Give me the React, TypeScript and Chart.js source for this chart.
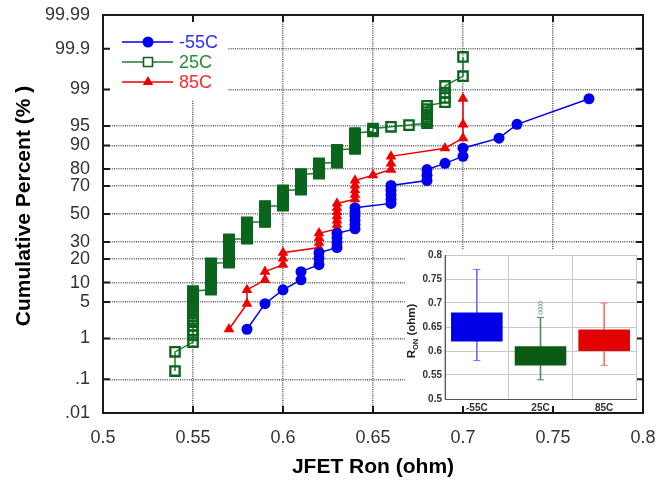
import React, { useEffect, useRef } from 'react';
import { Chart, registerables, LinearScale } from 'chart.js';

Chart.register(...registerables);

// ---------------- data ----------------
const seriesNames = ['-55C', '25C', '85C'];

// measured Ron values (ohm) and how many parts share each value
const neg55Ron = [0.58, 0.59, 0.60, 0.61, 0.62, 0.63, 0.64, 0.66, 0.68, 0.69, 0.70, 0.72, 0.73, 0.77];
const neg55Count = [1, 1, 1, 2, 3, 4, 6, 5, 3, 1, 2, 1, 1, 1];

const p25Ron = [0.54, 0.55, 0.56, 0.57, 0.58, 0.59, 0.60, 0.61, 0.62, 0.63, 0.64, 0.65, 0.66, 0.67, 0.68, 0.69, 0.70];
const p25Count = [2, 21, 31, 42, 36, 36, 34, 30, 17, 17, 15, 3, 1, 1, 8, 4, 2];

const p85Ron = [0.57, 0.58, 0.59, 0.60, 0.62, 0.63, 0.64, 0.65, 0.66, 0.69, 0.70];
const p85Count = [1, 2, 2, 3, 4, 7, 5, 1, 3, 1, 3];

const yTickValues = [0.01, 0.1, 1, 5, 10, 20, 30, 50, 70, 80, 90, 95, 99, 99.9, 99.99];
const yTickLabels = ['.01', '.1', '1', '5', '10', '20', '30', '50', '70', '80', '90', '95', '99', '99.9', '99.99'];

// inset box plot
const boxCategories = ['-55C', '25C', '85C'];
const boxQ1 = [0.62, 0.57, 0.60];
const boxQ3 = [0.68, 0.61, 0.645];
const whiskerLow = [0.58, 0.54, 0.57];
const whiskerHigh = [0.77, 0.67, 0.70];
const outliers25C = [0.68, 0.687, 0.693, 0.70];

// ---------------- styles ----------------
const FONT = 'Arial, "Liberation Sans", Helvetica, sans-serif';
const BLUE = '#0000ee';
const GREEN_MARK = '#0b651c';
const GREEN_LINE = '#1f7d30';
const RED = '#ee0000';
const boxColors = ['#0000e6', '#0a5a14', '#e30000'];
const whiskerColors = ['#7070ff', '#4f8f5f', '#ff7070'];

// ---------------- probit helpers ----------------
function normInv(p: number): number {
  const a = [-3.969683028665376e+01, 2.209460984245205e+02, -2.759285104469687e+02, 1.383577518672690e+02, -3.066479806614716e+01, 2.506628277459239e+00];
  const b = [-5.447609879822406e+01, 1.615858368580409e+02, -1.556989798598866e+02, 6.680131188771972e+01, -1.328068155288572e+01];
  const c = [-7.784894002430293e-03, -3.223964580411365e-01, -2.400758277161838e+00, -2.549732539343734e+00, 4.374664141464968e+00, 2.938163982698783e+00];
  const d = [7.784695709041462e-03, 3.224671290700398e-01, 2.445134137142996e+00, 3.754408661907416e+00];
  const pl = 0.02425;
  if (p < pl) {
    const q = Math.sqrt(-2 * Math.log(p));
    return (((((c[0] * q + c[1]) * q + c[2]) * q + c[3]) * q + c[4]) * q + c[5]) / ((((d[0] * q + d[1]) * q + d[2]) * q + d[3]) * q + 1);
  }
  if (p <= 1 - pl) {
    const q = p - 0.5, r = q * q;
    return (((((a[0] * r + a[1]) * r + a[2]) * r + a[3]) * r + a[4]) * r + a[5]) * q / (((((b[0] * r + b[1]) * r + b[2]) * r + b[3]) * r + b[4]) * r + 1);
  }
  const q = Math.sqrt(-2 * Math.log(1 - p));
  return -(((((c[0] * q + c[1]) * q + c[2]) * q + c[3]) * q + c[4]) * q + c[5]) / ((((d[0] * q + d[1]) * q + d[2]) * q + d[3]) * q + 1);
}

function probFromZ(z: number): number {
  let lo = 1e-9, hi = 1 - 1e-9;
  for (let i = 0; i < 60; i++) {
    const mid = (lo + hi) / 2;
    if (normInv(mid) < z) lo = mid; else hi = mid;
  }
  return (lo + hi) / 2;
}

class ProbitScale extends (LinearScale as any) {
  static id = 'probit';
  determineDataLimits() {
    this.min = this.options.min;
    this.max = this.options.max;
  }
  buildTicks() {
    return yTickValues.map((v) => ({ value: v }));
  }
  configure() {
    super.configure();
    this._zLo = normInv(this.min / 100);
    this._zHi = normInv(this.max / 100);
  }
  getPixelForValue(value: number) {
    const z = normInv(value / 100);
    return this.getPixelForDecimal((z - this._zLo) / (this._zHi - this._zLo));
  }
  getValueForPixel(pixel: number) {
    const dec = this.getDecimalForPixel(pixel);
    return probFromZ(this._zLo + dec * (this._zHi - this._zLo)) * 100;
  }
}
Chart.register(ProbitScale as any);

// cumulative plotting positions (i - 0.5) / N of the measured sample
function probabilityPoints(values: number[], counts: number[]) {
  const n = counts.reduce((s, c) => s + c, 0);
  const pts: { x: number; y: number }[] = [];
  let rank = 0;
  values.forEach((v, k) => {
    for (let j = 0; j < counts[k]; j++) {
      rank += 1;
      pts.push({ x: v, y: ((rank - 0.5) / n) * 100 });
    }
  });
  return pts;
}

const fmt = (v: number) => String(Number(Number(v).toFixed(2)));

function drawMarker(ctx: CanvasRenderingContext2D, kind: string, x: number, y: number, color: string) {
  ctx.save();
  ctx.strokeStyle = color;
  ctx.fillStyle = color;
  ctx.beginPath();
  if (kind === 'circle') {
    ctx.arc(x, y, 5.5, 0, Math.PI * 2);
    ctx.fill();
  } else if (kind === 'rect') {
    ctx.lineWidth = 1.6;
    ctx.fillStyle = '#fff';
    ctx.rect(x - 4.5, y - 4.5, 9, 9);
    ctx.fill();
    ctx.stroke();
  } else {
    const r = 6;
    ctx.moveTo(x, y - r);
    ctx.lineTo(x + r * 0.866, y + r * 0.5);
    ctx.lineTo(x - r * 0.866, y + r * 0.5);
    ctx.closePath();
    ctx.fill();
  }
  ctx.restore();
}

const legendItems = [
  { name: seriesNames[0], line: BLUE, marker: 'circle', markColor: BLUE, text: '#2f2fff' },
  { name: seriesNames[1], line: GREEN_LINE, marker: 'rect', markColor: GREEN_MARK, text: '#2b8a3b' },
  { name: seriesNames[2], line: RED, marker: 'triangle', markColor: RED, text: '#ff2a2a' },
];

const mainDecor = {
  id: 'mainDecor',
  beforeDatasetsDraw(chart: any) {
    const { ctx, chartArea: a } = chart;
    ctx.save();
    ctx.fillStyle = '#ffffff';
    // legend background
    ctx.fillRect(a.left, a.top, 125, 85);
    // inset background
    ctx.fillRect(405, 250, a.right - 405, a.bottom - 250);
    ctx.restore();
  },
  afterDraw(chart: any) {
    const { ctx, chartArea: a, scales } = chart;
    // y axis title
    ctx.save();
    ctx.translate(24, 206);
    ctx.rotate(-Math.PI / 2);
    ctx.fillStyle = '#000';
    ctx.font = `bold 21px ${FONT}`;
    ctx.textAlign = 'center';
    ctx.textBaseline = 'middle';
    ctx.fillText('Cumulative Percent (% )', 0, 0);
    ctx.restore();
    // legend
    legendItems.forEach((it, i) => {
      const y = a.top + 27 + i * 20;
      ctx.save();
      ctx.strokeStyle = it.line;
      ctx.lineWidth = 1.5;
      ctx.beginPath();
      ctx.moveTo(a.left + 19, y);
      ctx.lineTo(a.left + 70, y);
      ctx.stroke();
      ctx.restore();
      drawMarker(ctx, it.marker, a.left + 45, y, it.markColor);
      ctx.save();
      ctx.fillStyle = it.text;
      ctx.font = `18px ${FONT}`;
      ctx.textBaseline = 'middle';
      ctx.textAlign = 'left';
      ctx.fillText(it.name, a.left + 76, y + 1);
      ctx.restore();
    });
    // frame
    ctx.save();
    ctx.strokeStyle = '#1a1a1a';
    ctx.lineWidth = 2;
    ctx.strokeRect(a.left, a.top, a.right - a.left, a.bottom - a.top);
    const tl = 7;
    ctx.beginPath();
    scales.x.ticks.forEach((t: any, i: number) => {
      if (i === 0 || i === scales.x.ticks.length - 1) return;
      const px = scales.x.getPixelForValue(t.value);
      ctx.moveTo(px, a.top);
      ctx.lineTo(px, a.top + tl);
      ctx.moveTo(px, a.bottom);
      ctx.lineTo(px, a.bottom - tl);
    });
    scales.y.ticks.forEach((t: any, i: number) => {
      if (i === 0 || i === scales.y.ticks.length - 1) return;
      const py = scales.y.getPixelForValue(t.value);
      ctx.moveTo(a.left, py);
      ctx.lineTo(a.left + tl, py);
      ctx.moveTo(a.right, py);
      ctx.lineTo(a.right - tl, py);
    });
    ctx.stroke();
    ctx.restore();
  },
};

const insetTitle = {
  id: 'insetTitle',
  afterDraw(chart: any) {
    const { ctx, chartArea: a } = chart;
    ctx.save();
    ctx.translate(7, (a.top + a.bottom) / 2 + 4);
    ctx.rotate(-Math.PI / 2);
    ctx.fillStyle = '#222';
    ctx.textBaseline = 'middle';
    ctx.textAlign = 'left';
    const f1 = `bold 11.5px ${FONT}`;
    const f2 = `bold 7.5px ${FONT}`;
    ctx.font = f1;
    const w1 = ctx.measureText('R').width;
    const w3 = ctx.measureText(' (ohm)').width;
    ctx.font = f2;
    const w2 = ctx.measureText('ON').width;
    let x = -(w1 + w2 + w3) / 2;
    ctx.font = f1;
    ctx.fillText('R', x, 0);
    x += w1;
    ctx.font = f2;
    ctx.fillText('ON', x, 3.5);
    x += w2;
    ctx.font = f1;
    ctx.fillText(' (ohm)', x, 0);
    ctx.restore();
  },
};

const noPadX = (h: number) => (s: any) => {
  s.height = h;
  s.paddingLeft = 0;
  s.paddingRight = 0;
};
const noPadY = (w: number) => (s: any) => {
  s.width = w;
  s.paddingTop = 0;
  s.paddingBottom = 0;
};

export default function App() {
  const mainRef = useRef<HTMLCanvasElement>(null);
  const insetRef = useRef<HTMLCanvasElement>(null);

  useEffect(() => {
    const main = new Chart(mainRef.current as HTMLCanvasElement, {
      type: 'scatter',
      data: {
        datasets: [
          {
            label: seriesNames[0],
            data: probabilityPoints(neg55Ron, neg55Count),
            showLine: true,
            borderColor: BLUE,
            borderWidth: 1.5,
            pointStyle: 'circle',
            pointRadius: 5.5,
            pointBackgroundColor: BLUE,
            pointBorderColor: BLUE,
            pointBorderWidth: 0,
          },
          {
            label: seriesNames[1],
            data: probabilityPoints(p25Ron, p25Count),
            showLine: true,
            borderColor: GREEN_LINE,
            borderWidth: 1.5,
            pointStyle: 'rect',
            pointRadius: 6.6,
            pointBackgroundColor: 'rgba(0,0,0,0)',
            pointBorderColor: GREEN_MARK,
            pointBorderWidth: 2.3,
          },
          {
            label: seriesNames[2],
            data: probabilityPoints(p85Ron, p85Count),
            showLine: true,
            borderColor: RED,
            borderWidth: 1.5,
            pointStyle: 'triangle',
            pointRadius: 6.2,
            pointBackgroundColor: RED,
            pointBorderColor: RED,
            pointBorderWidth: 0,
          },
        ],
      },
      options: {
        responsive: false,
        animation: false,
        devicePixelRatio: 1,
        layout: { padding: { top: 15, right: 14, left: 0, bottom: 0 } },
        plugins: { legend: { display: false }, tooltip: { enabled: false } },
        scales: {
          x: {
            type: 'linear',
            min: 0.5,
            max: 0.8,
            afterFit: noPadX(73),
            ticks: {
              stepSize: 0.05,
              padding: 14,
              autoSkip: false,
              maxRotation: 0,
              color: '#333',
              font: { family: FONT, size: 18 },
              callback: (v: any) => fmt(v),
            },
            grid: { color: '#5a5a5a', lineWidth: 1.5, drawTicks: false },
            border: { display: false, dash: [1, 1.2] },
            title: {
              display: true,
              text: 'JFET Ron (ohm)',
              color: '#000',
              font: { family: FONT, size: 21, weight: 'bold' },
              padding: { top: 0, bottom: 6 },
            },
          },
          y: {
            type: 'probit' as any,
            min: 0.01,
            max: 99.99,
            afterFit: noPadY(103),
            ticks: {
              padding: 13,
              autoSkip: false,
              color: '#333',
              font: { family: FONT, size: 18 },
              callback: (v: any) => {
                const i = yTickValues.indexOf(v);
                return i >= 0 ? yTickLabels[i] : '';
              },
            },
            grid: { color: '#5a5a5a', lineWidth: 1.5, drawTicks: false },
            border: { display: false, dash: [1, 1.2] },
            title: { display: false },
          },
        },
      } as any,
      plugins: [mainDecor],
    });

    const inset = new Chart(insetRef.current as HTMLCanvasElement, {
      type: 'bar',
      data: {
        labels: boxCategories,
        datasets: [
          {
            type: 'bar',
            label: 'box',
            data: boxCategories.map((_, i) => [boxQ1[i], boxQ3[i]]),
            backgroundColor: boxColors,
            borderWidth: 0,
            grouped: false,
            categoryPercentage: 1,
            barPercentage: 0.81,
            order: 0,
          },
          {
            type: 'bar',
            label: 'whisker',
            data: boxCategories.map((_, i) => [whiskerLow[i], whiskerHigh[i]]),
            backgroundColor: whiskerColors,
            borderWidth: 0,
            grouped: false,
            barThickness: 1,
            order: 2,
          },
          {
            type: 'line',
            label: 'low cap',
            data: whiskerLow,
            showLine: false,
            pointStyle: 'line',
            pointRadius: 3.5,
            pointBorderColor: whiskerColors,
            pointBorderWidth: 1,
            order: 1,
          },
          {
            type: 'line',
            label: 'high cap',
            data: whiskerHigh,
            showLine: false,
            pointStyle: 'line',
            pointRadius: 3.5,
            pointBorderColor: whiskerColors,
            pointBorderWidth: 1,
            order: 1,
          },
          {
            type: 'line',
            label: 'outliers',
            data: outliers25C.map((v) => ({ x: boxCategories[1], y: v })),
            showLine: false,
            pointStyle: 'circle',
            pointRadius: 1.8,
            pointBackgroundColor: 'rgba(0,0,0,0)',
            pointBorderColor: '#7f9a85',
            pointBorderWidth: 0.8,
            order: 1,
          },
        ],
      } as any,
      options: {
        responsive: false,
        animation: false,
        devicePixelRatio: 1,
        layout: { padding: { top: 5, right: 3, left: 0, bottom: 0 } },
        plugins: { legend: { display: false }, tooltip: { enabled: false } },
        scales: {
          x: {
            type: 'category',
            offset: true,
            afterFit: noPadX(14),
            grid: { offset: true, color: '#c8c8c8', lineWidth: 1, drawTicks: false },
            border: { color: '#555', width: 1 },
            ticks: { padding: 3, color: '#333', font: { family: FONT, size: 10, weight: 'bold' } },
          },
          y: {
            min: 0.5,
            max: 0.8,
            afterFit: noPadY(40),
            grid: { color: '#c8c8c8', lineWidth: 1, drawTicks: false },
            border: { color: '#555', width: 1 },
            ticks: {
              stepSize: 0.05,
              padding: 3,
              color: '#333',
              font: { family: FONT, size: 10, weight: 'bold' },
              callback: (v: any) => fmt(v),
            },
          },
        },
      } as any,
      plugins: [insetTitle],
    });

    return () => {
      main.destroy();
      inset.destroy();
    };
  }, []);

  return (
    <div style={{ position: 'absolute', left: 0, top: 0, width: 657, height: 486, background: '#fff' }}>
      <canvas ref={mainRef} width={657} height={486} style={{ position: 'absolute', left: 0, top: 0 }} />
      <canvas ref={insetRef} width={236} height={163} style={{ position: 'absolute', left: 405, top: 250 }} />
    </div>
  );
}
